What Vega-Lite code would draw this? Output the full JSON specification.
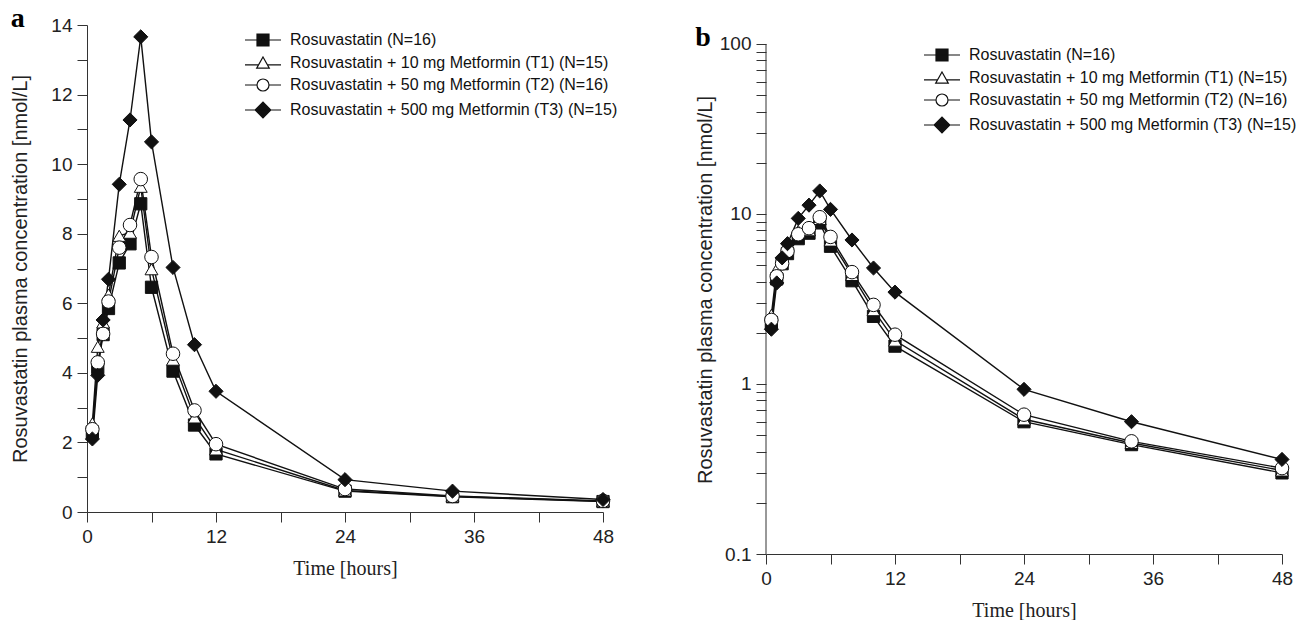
{
  "$schema": "https://vega.github.io/schema/vega-lite/v6.json",
  "padding": {"left": 10, "top": 5, "right": 0, "bottom": 0},
  "background": "white",
  "columns": 2,
  "align": "none",
  "spacing": 77,
  "datasets": {
    "d": [
      {"t": 0.5, "c": 2.30, "s": "Rosuvastatin (N=16)"},
      {"t": 1, "c": 4.15, "s": "Rosuvastatin (N=16)"},
      {"t": 1.5, "c": 5.10, "s": "Rosuvastatin (N=16)"},
      {"t": 2, "c": 5.85, "s": "Rosuvastatin (N=16)"},
      {"t": 3, "c": 7.16, "s": "Rosuvastatin (N=16)"},
      {"t": 4, "c": 7.71, "s": "Rosuvastatin (N=16)"},
      {"t": 5, "c": 8.86, "s": "Rosuvastatin (N=16)"},
      {"t": 6, "c": 6.46, "s": "Rosuvastatin (N=16)"},
      {"t": 8, "c": 4.05, "s": "Rosuvastatin (N=16)"},
      {"t": 10, "c": 2.50, "s": "Rosuvastatin (N=16)"},
      {"t": 12, "c": 1.67, "s": "Rosuvastatin (N=16)"},
      {"t": 24, "c": 0.60, "s": "Rosuvastatin (N=16)"},
      {"t": 34, "c": 0.44, "s": "Rosuvastatin (N=16)"},
      {"t": 48, "c": 0.30, "s": "Rosuvastatin (N=16)"},
      {"t": 0.5, "c": 2.55, "s": "Rosuvastatin + 10 mg Metformin (T1) (N=15)"},
      {"t": 1, "c": 4.75, "s": "Rosuvastatin + 10 mg Metformin (T1) (N=15)"},
      {"t": 1.5, "c": 5.45, "s": "Rosuvastatin + 10 mg Metformin (T1) (N=15)"},
      {"t": 2, "c": 6.25, "s": "Rosuvastatin + 10 mg Metformin (T1) (N=15)"},
      {"t": 3, "c": 7.94, "s": "Rosuvastatin + 10 mg Metformin (T1) (N=15)"},
      {"t": 4, "c": 8.03, "s": "Rosuvastatin + 10 mg Metformin (T1) (N=15)"},
      {"t": 5, "c": 9.35, "s": "Rosuvastatin + 10 mg Metformin (T1) (N=15)"},
      {"t": 6, "c": 6.98, "s": "Rosuvastatin + 10 mg Metformin (T1) (N=15)"},
      {"t": 8, "c": 4.38, "s": "Rosuvastatin + 10 mg Metformin (T1) (N=15)"},
      {"t": 10, "c": 2.72, "s": "Rosuvastatin + 10 mg Metformin (T1) (N=15)"},
      {"t": 12, "c": 1.80, "s": "Rosuvastatin + 10 mg Metformin (T1) (N=15)"},
      {"t": 24, "c": 0.62, "s": "Rosuvastatin + 10 mg Metformin (T1) (N=15)"},
      {"t": 34, "c": 0.45, "s": "Rosuvastatin + 10 mg Metformin (T1) (N=15)"},
      {"t": 48, "c": 0.31, "s": "Rosuvastatin + 10 mg Metformin (T1) (N=15)"},
      {"t": 0.5, "c": 2.38, "s": "Rosuvastatin + 50 mg Metformin (T2) (N=16)"},
      {"t": 1, "c": 4.30, "s": "Rosuvastatin + 50 mg Metformin (T2) (N=16)"},
      {"t": 1.5, "c": 5.12, "s": "Rosuvastatin + 50 mg Metformin (T2) (N=16)"},
      {"t": 2, "c": 6.05, "s": "Rosuvastatin + 50 mg Metformin (T2) (N=16)"},
      {"t": 3, "c": 7.60, "s": "Rosuvastatin + 50 mg Metformin (T2) (N=16)"},
      {"t": 4, "c": 8.25, "s": "Rosuvastatin + 50 mg Metformin (T2) (N=16)"},
      {"t": 5, "c": 9.57, "s": "Rosuvastatin + 50 mg Metformin (T2) (N=16)"},
      {"t": 6, "c": 7.33, "s": "Rosuvastatin + 50 mg Metformin (T2) (N=16)"},
      {"t": 8, "c": 4.55, "s": "Rosuvastatin + 50 mg Metformin (T2) (N=16)"},
      {"t": 10, "c": 2.92, "s": "Rosuvastatin + 50 mg Metformin (T2) (N=16)"},
      {"t": 12, "c": 1.95, "s": "Rosuvastatin + 50 mg Metformin (T2) (N=16)"},
      {"t": 24, "c": 0.66, "s": "Rosuvastatin + 50 mg Metformin (T2) (N=16)"},
      {"t": 34, "c": 0.46, "s": "Rosuvastatin + 50 mg Metformin (T2) (N=16)"},
      {"t": 48, "c": 0.32, "s": "Rosuvastatin + 50 mg Metformin (T2) (N=16)"},
      {"t": 0.5, "c": 2.10, "s": "Rosuvastatin + 500 mg Metformin (T3) (N=15)"},
      {"t": 1, "c": 3.93, "s": "Rosuvastatin + 500 mg Metformin (T3) (N=15)"},
      {"t": 1.5, "c": 5.52, "s": "Rosuvastatin + 500 mg Metformin (T3) (N=15)"},
      {"t": 2, "c": 6.69, "s": "Rosuvastatin + 500 mg Metformin (T3) (N=15)"},
      {"t": 3, "c": 9.42, "s": "Rosuvastatin + 500 mg Metformin (T3) (N=15)"},
      {"t": 4, "c": 11.27, "s": "Rosuvastatin + 500 mg Metformin (T3) (N=15)"},
      {"t": 5, "c": 13.66, "s": "Rosuvastatin + 500 mg Metformin (T3) (N=15)"},
      {"t": 6, "c": 10.64, "s": "Rosuvastatin + 500 mg Metformin (T3) (N=15)"},
      {"t": 8, "c": 7.03, "s": "Rosuvastatin + 500 mg Metformin (T3) (N=15)"},
      {"t": 10, "c": 4.81, "s": "Rosuvastatin + 500 mg Metformin (T3) (N=15)"},
      {"t": 12, "c": 3.47, "s": "Rosuvastatin + 500 mg Metformin (T3) (N=15)"},
      {"t": 24, "c": 0.93, "s": "Rosuvastatin + 500 mg Metformin (T3) (N=15)"},
      {"t": 34, "c": 0.60, "s": "Rosuvastatin + 500 mg Metformin (T3) (N=15)"},
      {"t": 48, "c": 0.36, "s": "Rosuvastatin + 500 mg Metformin (T3) (N=15)"}
    ]
  },
  "concat": [
    {
      "width": 516,
      "height": 487,
      "title": {"text": "a", "anchor": "start", "frame": "bounds", "font": "Liberation Serif", "fontSize": 28, "fontWeight": "bold", "color": "black", "offset": -17},
      "data": {"name": "d"},
      "encoding": {
        "x": {"field": "t", "type": "quantitative", "scale": {"domain": [0, 48], "nice": false},
          "axis": {"values": [0, 6, 12, 18, 24, 30, 36, 42, 48], "labelExpr": "datum.value % 12 == 0 ? datum.label : ''", "title": "Time [hours]"}},
        "y": {"field": "c", "type": "quantitative", "scale": {"domain": [0, 14], "nice": false},
          "axis": {"values": [0, 1, 2, 3, 4, 5, 6, 7, 8, 9, 10, 11, 12, 13, 14], "labelExpr": "datum.value % 2 == 0 ? datum.label : ''", "title": "Rosuvastatin plasma concentration [nmol/L]", "titlePadding": 20}}
      },
      "layer": [
        {"mark": {"type": "line", "color": "#111", "strokeWidth": 1.4}, "encoding": {"detail": {"field": "s"}}},
        {"mark": {"type": "point", "filled": true, "stroke": "#111", "strokeWidth": 1, "opacity": 1},
          "encoding": {
            "shape": {"field": "s", "scale": {"domain": ["Rosuvastatin (N=16)", "Rosuvastatin + 10 mg Metformin (T1) (N=15)", "Rosuvastatin + 50 mg Metformin (T2) (N=16)", "Rosuvastatin + 500 mg Metformin (T3) (N=15)"], "range": ["square", "triangle-up", "circle", "diamond"]}, "legend": null},
            "fill": {"field": "s", "scale": {"domain": ["Rosuvastatin (N=16)", "Rosuvastatin + 10 mg Metformin (T1) (N=15)", "Rosuvastatin + 50 mg Metformin (T2) (N=16)", "Rosuvastatin + 500 mg Metformin (T3) (N=15)"], "range": ["#111", "white", "white", "#111"]}, "legend": null},
            "size": {"field": "s", "scale": {"domain": ["Rosuvastatin (N=16)", "Rosuvastatin + 10 mg Metformin (T1) (N=15)", "Rosuvastatin + 50 mg Metformin (T2) (N=16)", "Rosuvastatin + 500 mg Metformin (T3) (N=15)"], "range": [150, 200, 175, 280]}, "legend": null}
          }},
        {"mark": {"type": "point", "filled": true, "stroke": "#111", "strokeWidth": 1.2, "opacity": 0},
          "encoding": {
            "shape": {"field": "s", "scale": {"domain": ["Rosuvastatin (N=16)", "Rosuvastatin + 10 mg Metformin (T1) (N=15)", "Rosuvastatin + 50 mg Metformin (T2) (N=16)", "Rosuvastatin + 500 mg Metformin (T3) (N=15)"], "range": ["M-3,0H3M-1,-1H1V1H-1Z", "M-3,0.3H-0.74M0.74,0.3H3M0,-1L1.05,0.85L-1.05,0.85Z", "M-3,0H-1M1,0H3M1,0A1,1,0,1,1,-1,0A1,1,0,1,1,1,0Z", "M-3,0H3M-1.3,0L0,-1.3L1.3,0L0,1.3Z"]},
              "legend": {"orient": "none", "legendX": 168, "legendY": 7, "title": null, "encode": {"symbols": {"update": {"stroke": {"value": "#111"}, "strokeWidth": {"value": 1.2}, "opacity": {"value": 1}}}}}},
            "fill": {"field": "s", "scale": {"domain": ["Rosuvastatin (N=16)", "Rosuvastatin + 10 mg Metformin (T1) (N=15)", "Rosuvastatin + 50 mg Metformin (T2) (N=16)", "Rosuvastatin + 500 mg Metformin (T3) (N=15)"], "range": ["#111", "white", "white", "#111"]},
              "legend": {"orient": "none", "legendX": 168, "legendY": 7, "title": null, "encode": {"symbols": {"update": {"stroke": {"value": "#111"}, "strokeWidth": {"value": 1.2}, "opacity": {"value": 1}}}}}}
          }}
      ],
      "resolve": {"scale": {"shape": "independent", "fill": "independent"}}
    },
    {
      "width": 516,
      "height": 529,
      "title": {"text": "b", "anchor": "start", "frame": "bounds", "font": "Liberation Serif", "fontSize": 28, "fontWeight": "bold", "color": "black", "offset": -27},
      "data": {"name": "d"},
      "encoding": {
        "x": {"field": "t", "type": "quantitative", "scale": {"domain": [0, 48], "nice": false},
          "axis": {"values": [0, 6, 12, 18, 24, 30, 36, 42, 48], "labelExpr": "datum.value % 12 == 0 ? datum.label : ''", "title": "Time [hours]"}},
        "y": {"field": "c", "type": "quantitative", "scale": {"type": "log", "domain": [0.1, 129.3], "nice": false},
          "axis": {"domain": false, "values": [0.1, 0.2, 0.3, 0.4, 0.5, 0.6, 0.7, 0.8, 0.9, 1, 2, 3, 4, 5, 6, 7, 8, 9, 10, 20, 30, 40, 50, 60, 70, 80, 90, 100], "labelExpr": "datum.value == 0.1 ? '0.1' : datum.value == 1 ? '1' : datum.value == 10 ? '10' : datum.value == 100 ? '100' : ''", "title": "Rosuvastatin plasma concentration [nmol/L]", "titlePadding": 4}}
      },
      "layer": [
        {"data": {"values": [{"x0": 0, "ylo": 0.1, "yhi": 100}]}, "mark": {"type": "rule", "color": "#333", "strokeWidth": 1},
          "encoding": {"x": {"field": "x0", "type": "quantitative"}, "y": {"field": "ylo", "type": "quantitative"}, "y2": {"field": "yhi"}}},
        {"mark": {"type": "line", "color": "#111", "strokeWidth": 1.4}, "encoding": {"detail": {"field": "s"}}},
        {"mark": {"type": "point", "filled": true, "stroke": "#111", "strokeWidth": 1, "opacity": 1},
          "encoding": {
            "shape": {"field": "s", "scale": {"domain": ["Rosuvastatin (N=16)", "Rosuvastatin + 10 mg Metformin (T1) (N=15)", "Rosuvastatin + 50 mg Metformin (T2) (N=16)", "Rosuvastatin + 500 mg Metformin (T3) (N=15)"], "range": ["square", "triangle-up", "circle", "diamond"]}, "legend": null},
            "fill": {"field": "s", "scale": {"domain": ["Rosuvastatin (N=16)", "Rosuvastatin + 10 mg Metformin (T1) (N=15)", "Rosuvastatin + 50 mg Metformin (T2) (N=16)", "Rosuvastatin + 500 mg Metformin (T3) (N=15)"], "range": ["#111", "white", "white", "#111"]}, "legend": null},
            "size": {"field": "s", "scale": {"domain": ["Rosuvastatin (N=16)", "Rosuvastatin + 10 mg Metformin (T1) (N=15)", "Rosuvastatin + 50 mg Metformin (T2) (N=16)", "Rosuvastatin + 500 mg Metformin (T3) (N=15)"], "range": [150, 200, 175, 280]}, "legend": null}
          }},
        {"mark": {"type": "point", "filled": true, "stroke": "#111", "strokeWidth": 1.2, "opacity": 0},
          "encoding": {
            "shape": {"field": "s", "scale": {"domain": ["Rosuvastatin (N=16)", "Rosuvastatin + 10 mg Metformin (T1) (N=15)", "Rosuvastatin + 50 mg Metformin (T2) (N=16)", "Rosuvastatin + 500 mg Metformin (T3) (N=15)"], "range": ["M-3,0H3M-1,-1H1V1H-1Z", "M-3,0.3H-0.74M0.74,0.3H3M0,-1L1.05,0.85L-1.05,0.85Z", "M-3,0H-1M1,0H3M1,0A1,1,0,1,1,-1,0A1,1,0,1,1,1,0Z", "M-3,0H3M-1.3,0L0,-1.3L1.3,0L0,1.3Z"]},
              "legend": {"orient": "none", "legendX": 168, "legendY": 22, "title": null, "encode": {"symbols": {"update": {"stroke": {"value": "#111"}, "strokeWidth": {"value": 1.2}, "opacity": {"value": 1}}}}}},
            "fill": {"field": "s", "scale": {"domain": ["Rosuvastatin (N=16)", "Rosuvastatin + 10 mg Metformin (T1) (N=15)", "Rosuvastatin + 50 mg Metformin (T2) (N=16)", "Rosuvastatin + 500 mg Metformin (T3) (N=15)"], "range": ["#111", "white", "white", "#111"]},
              "legend": {"orient": "none", "legendX": 168, "legendY": 22, "title": null, "encode": {"symbols": {"update": {"stroke": {"value": "#111"}, "strokeWidth": {"value": 1.2}, "opacity": {"value": 1}}}}}}
          }}
      ],
      "resolve": {"scale": {"shape": "independent", "fill": "independent"}}
    }
  ],
  "config": {
    "view": {"stroke": null},
    "axis": {
      "grid": false,
      "domainColor": "#333",
      "tickColor": "#333",
      "tickSize": 10,
      "labelFont": "Liberation Sans",
      "labelFontSize": 19,
      "labelColor": "#222",
      "labelPadding": 5,
      "titleFont": "Liberation Sans",
      "titleFontSize": 20,
      "titleFontWeight": "normal",
      "titleColor": "#222"
    },
    "axisX": {"titleFont": "Liberation Serif", "titleFontSize": 20, "titlePadding": 12, "labelFlush": false},
    "axisY": {"labelFlush": false},
    "legend": {
      "labelFont": "Liberation Sans",
      "labelFontSize": 16,
      "labelColor": "#111",
      "labelLimit": 600,
      "symbolSize": 144,
      "symbolStrokeColor": "#111",
      "symbolStrokeWidth": 1.2,
      "symbolOpacity": 1,
      "labelOffset": 19,
      "rowPadding": 5
    }
  }
}
